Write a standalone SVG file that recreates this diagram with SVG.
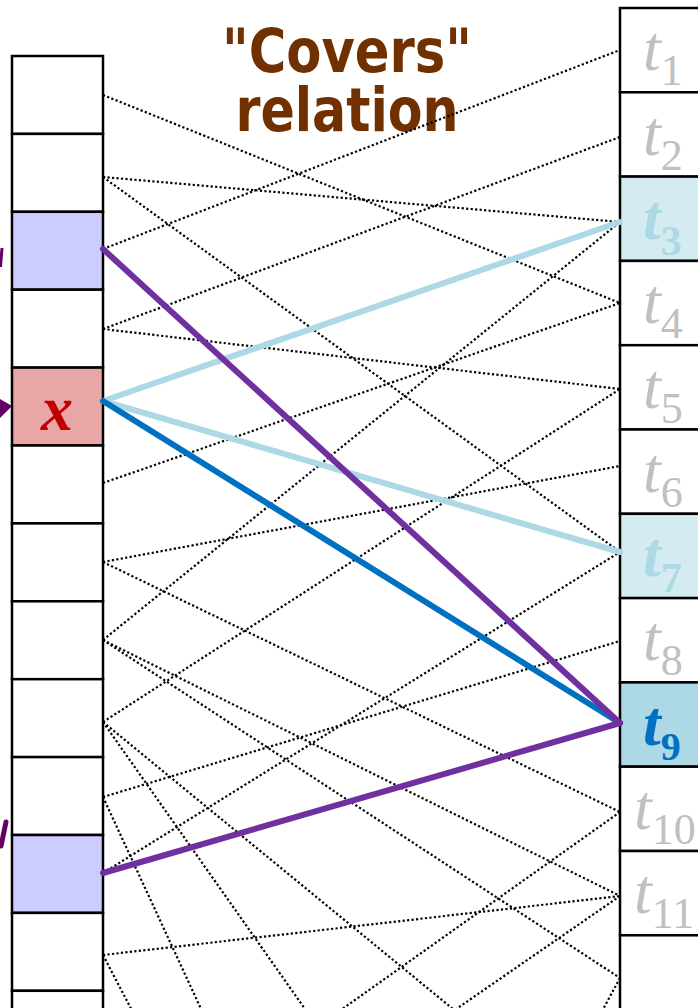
<svg xmlns="http://www.w3.org/2000/svg" width="698" height="1008" viewBox="0 0 698 1008">
<style>
.cell{stroke:#000;stroke-width:2.5}
.dot{stroke:#000;stroke-width:2.2;stroke-dasharray:2.2 2.3;fill:none}
.thick{stroke-width:6;fill:none;stroke-linecap:round}
.tl{font-family:"Liberation Serif","Times New Roman",serif;font-style:italic;fill:#C0C0C0}
.tb{font-family:"Liberation Serif","Times New Roman",serif;font-style:italic;font-weight:bold}
.sub{font-style:normal}
.title{font-family:"DejaVu Sans Condensed","DejaVu Sans",Verdana,sans-serif;font-weight:bold;font-size:60px;fill:#703000}
</style>
<rect width="698" height="1008" fill="#fff"/>
<g id="title">
<text class="title" text-anchor="middle"><tspan x="347" y="72" textLength="250" lengthAdjust="spacingAndGlyphs">"Covers"</tspan><tspan x="347" y="131" textLength="223" lengthAdjust="spacingAndGlyphs">relation</tspan></text>
</g>
<g id="left-column">
<rect id="L1" class="cell" x="12" y="56" width="91" height="77.9" fill="#fff"/>
<rect id="L2" class="cell" x="12" y="133.9" width="91" height="77.9" fill="#fff"/>
<rect id="L3" class="cell" x="12" y="211.8" width="91" height="77.9" fill="#CCCCFF"/>
<rect id="L4" class="cell" x="12" y="289.7" width="91" height="77.9" fill="#fff"/>
<g id="L5"><rect class="cell" x="12" y="367.6" width="91" height="77.9" fill="#E8A6A6"/>
<text x="57" y="430" text-anchor="middle" font-family="Liberation Serif,Times New Roman,serif" font-style="italic" font-weight="bold" font-size="64" fill="#C00000">x</text></g>
<rect id="L6" class="cell" x="12" y="445.5" width="91" height="77.9" fill="#fff"/>
<rect id="L7" class="cell" x="12" y="523.4" width="91" height="77.9" fill="#fff"/>
<rect id="L8" class="cell" x="12" y="601.3" width="91" height="77.9" fill="#fff"/>
<rect id="L9" class="cell" x="12" y="679.2" width="91" height="77.9" fill="#fff"/>
<rect id="L10" class="cell" x="12" y="757.1" width="91" height="77.9" fill="#fff"/>
<rect id="L11" class="cell" x="12" y="835" width="91" height="77.9" fill="#CCCCFF"/>
<rect id="L12" class="cell" x="12" y="912.9" width="91" height="77.9" fill="#fff"/>
<rect id="L13" class="cell" x="12" y="990.8" width="91" height="77.9" fill="#fff"/>
</g>
<g id="right-column">
<g id="t1"><rect class="cell" x="620" y="8" width="100" height="84.3" fill="#fff"/><text class="tl" x="643" y="70" font-size="64">t<tspan class="sub" dy="15" font-size="44">1</tspan></text></g>
<g id="t2"><rect class="cell" x="620" y="92.3" width="100" height="84.3" fill="#fff"/><text class="tl" x="643" y="154.5" font-size="64">t<tspan class="sub" dy="15" font-size="44">2</tspan></text></g>
<g id="t3"><rect class="cell" x="620" y="176.6" width="100" height="84.3" fill="#D4EBF1"/><text class="tb" x="643" y="238.5" font-size="64" fill="#ADD8E6">t<tspan class="sub" dy="16" font-size="42">3</tspan></text></g>
<g id="t4"><rect class="cell" x="620" y="260.9" width="100" height="84.3" fill="#fff"/><text class="tl" x="643" y="323" font-size="64">t<tspan class="sub" dy="15" font-size="44">4</tspan></text></g>
<g id="t5"><rect class="cell" x="620" y="345.2" width="100" height="84.3" fill="#fff"/><text class="tl" x="643" y="407.5" font-size="64">t<tspan class="sub" dy="15" font-size="44">5</tspan></text></g>
<g id="t6"><rect class="cell" x="620" y="429.5" width="100" height="84.3" fill="#fff"/><text class="tl" x="643" y="491.5" font-size="64">t<tspan class="sub" dy="15" font-size="44">6</tspan></text></g>
<g id="t7"><rect class="cell" x="620" y="513.8" width="100" height="84.3" fill="#D4EBF1"/><text class="tb" x="643" y="576" font-size="64" fill="#ADD8E6">t<tspan class="sub" dy="16" font-size="42">7</tspan></text></g>
<g id="t8"><rect class="cell" x="620" y="598.1" width="100" height="84.3" fill="#fff"/><text class="tl" x="643" y="660" font-size="64">t<tspan class="sub" dy="15" font-size="44">8</tspan></text></g>
<g id="t9"><rect class="cell" x="620" y="682.4" width="100" height="84.3" fill="#ADD8E6"/><text class="tb" x="643" y="745" font-size="64" fill="#0070C0">t<tspan class="sub" dy="15" font-size="40">9</tspan></text></g>
<g id="t10"><rect class="cell" x="620" y="766.7" width="100" height="84.3" fill="#fff"/><text class="tl" x="634" y="829" font-size="64">t<tspan class="sub" dy="15" font-size="44">10</tspan></text></g>
<g id="t11"><rect class="cell" x="620" y="851" width="100" height="84.3" fill="#fff"/><text class="tl" x="634" y="913" font-size="64">t<tspan class="sub" dy="15" font-size="44">11</tspan></text></g>
<rect id="t12" class="cell" x="620" y="935.3" width="100" height="84.3" fill="#fff"/>
</g>
<g id="connectors">
<line class="dot" x1="103" y1="95" x2="620" y2="303"/>
<line class="dot" x1="103" y1="177" x2="620" y2="222"/>
<line class="dot" x1="103" y1="177" x2="620" y2="552"/>
<line class="dot" x1="103" y1="249" x2="620" y2="50"/>
<line class="dot" x1="103" y1="329" x2="620" y2="137"/>
<line class="dot" x1="103" y1="329" x2="620" y2="389"/>
<line class="dot" x1="103" y1="483" x2="620" y2="303"/>
<line class="dot" x1="103" y1="562" x2="620" y2="466"/>
<line class="dot" x1="103" y1="562" x2="620" y2="812"/>
<line class="dot" x1="103" y1="640" x2="620" y2="222"/>
<line class="dot" x1="103" y1="640" x2="620" y2="896"/>
<line class="dot" x1="103" y1="640" x2="620" y2="978"/>
<line class="dot" x1="103" y1="722" x2="620" y2="389"/>
<line class="dot" x1="103" y1="722" x2="620" y2="1146"/>
<line class="dot" x1="103" y1="722" x2="400" y2="1144"/>
<line class="dot" x1="103" y1="797" x2="620" y2="641"/>
<line class="dot" x1="103" y1="797" x2="220" y2="1050"/>
<line class="dot" x1="103" y1="873" x2="620" y2="552"/>
<line class="dot" x1="103" y1="955" x2="620" y2="896"/>
<line class="dot" x1="103" y1="955" x2="150" y2="1045"/>
<line class="dot" x1="620" y1="812" x2="300" y2="1039"/>
<line class="dot" x1="620" y1="896" x2="420" y2="1034"/>
<line class="dot" x1="620" y1="978" x2="595" y2="1024"/>
<line class="thick" stroke="#ADD8E6" x1="103" y1="401" x2="620" y2="222"/>
<line class="thick" stroke="#ADD8E6" x1="103" y1="401" x2="620" y2="552"/>
<line class="thick" stroke="#0070C0" x1="103" y1="401" x2="620" y2="723"/>
<line class="thick" stroke="#7030A0" x1="103" y1="249" x2="620" y2="723"/>
<line class="thick" stroke="#7030A0" x1="103" y1="873" x2="620" y2="723"/>
</g>
<g id="edge-marks" fill="#660066" stroke="#660066">
<polygon points="0,399 12,406 0,418" stroke="none"/>
<line x1="2" y1="248" x2="0.5" y2="267" stroke-width="3"/>
<line x1="6" y1="822" x2="1" y2="846" stroke-width="5" stroke-linecap="round"/>
</g>
</svg>
